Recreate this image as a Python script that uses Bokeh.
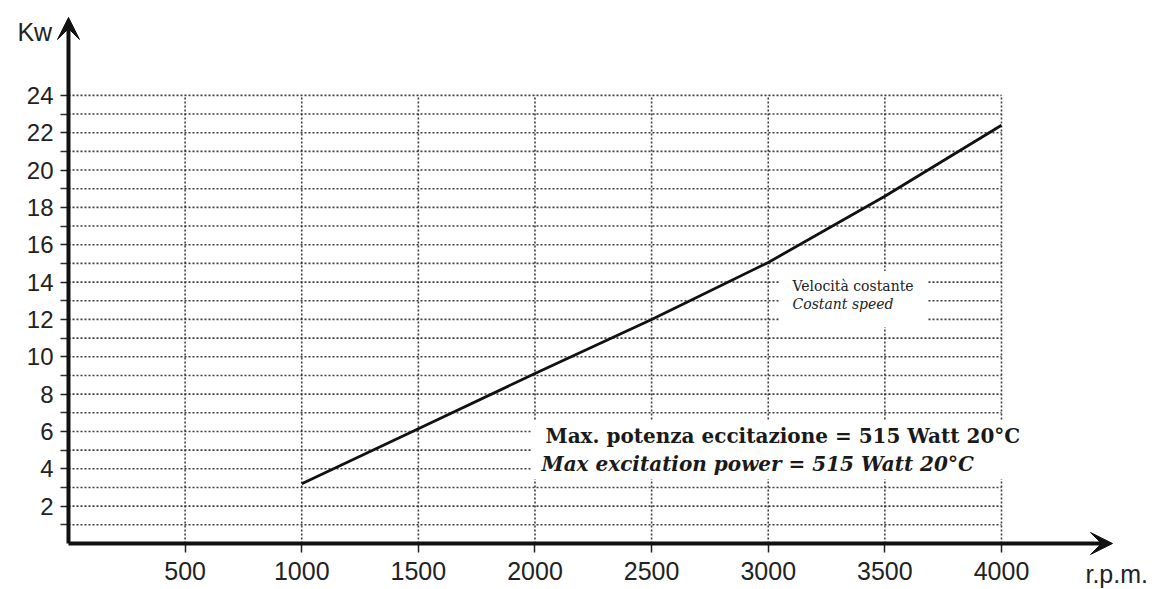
from bokeh.plotting import figure
from bokeh.models import Range1d, FixedTicker, Label, Arrow, VeeHead
from bokeh.embed import file_html
from bokeh.resources import INLINE

# ---- data ----
rpm = [1000, 1500, 2000, 2500, 3000, 3500, 4000]
kw = [3.2, 6.15, 9.1, 12.0, 15.05, 18.6, 22.4]

x_ticks = [500, 1000, 1500, 2000, 2500, 3000, 3500, 4000]
y_major = [2, 4, 6, 8, 10, 12, 14, 16, 18, 20, 22, 24]
y_minor = [1, 3, 5, 7, 9, 11, 13, 15, 17, 19, 21, 23]
grid_y = sorted(y_major + y_minor)

y_title = "Kw"
x_title = "r.p.m."
note_it = "Max. potenza eccitazione = 515 Watt 20°C"
note_en = "Max excitation power = 515 Watt 20°C"
speed_it = "Velocità costante"
speed_en = "Costant speed"

# ---- layout (frame spans whole figure; axes are fixed at 0) ----
X_MIN, X_MAX = -291.5, 4656
Y_MIN, Y_MAX = -2.464, 29.08
X_TIP = 4476
Y_TIP = 28.17

p = figure(width=1154, height=589,
           x_range=Range1d(X_MIN, X_MAX), y_range=Range1d(Y_MIN, Y_MAX),
           output_backend="svg", toolbar_location=None, min_border=0)
p.min_border_left = 0
p.min_border_right = 0
p.min_border_top = 0
p.min_border_bottom = 0
p.grid.visible = False
p.outline_line_color = None
p.background_fill_color = "white"
p.border_fill_color = "white"

AX_FONT = "Liberation Sans"
xa = p.xaxis[0]
xa.fixed_location = 0
xa.ticker = FixedTicker(ticks=x_ticks, minor_ticks=[])
xa.axis_line_color = None
xa.major_tick_in = 0
xa.major_tick_out = 9
xa.major_tick_line_width = 1.5
xa.major_tick_line_color = "#222222"
xa.minor_tick_out = 0
xa.minor_tick_in = 0
xa.major_label_text_font = AX_FONT
xa.major_label_text_font_size = "25px"
xa.major_label_text_color = "#222222"
xa.major_label_standoff = 10

ya = p.yaxis[0]
ya.fixed_location = 0
ya.ticker = FixedTicker(ticks=y_major, minor_ticks=y_minor)
ya.axis_line_color = None
ya.major_tick_in = 0
ya.major_tick_out = 8
ya.minor_tick_in = 0
ya.minor_tick_out = 8
ya.major_tick_line_width = 1.5
ya.minor_tick_line_width = 1.5
ya.major_tick_line_color = "#222222"
ya.minor_tick_line_color = "#333333"
ya.major_label_text_font = AX_FONT
ya.major_label_text_font_size = "24px"
ya.major_label_text_color = "#222222"
ya.major_label_standoff = 7

# dotted grid, limited to the chart area
GRID = dict(line_color="#2a2a2a", line_width=1.6, line_dash="2 2", line_alpha=0.9)
p.segment(x0=[0] * len(grid_y), y0=grid_y, x1=[x_ticks[-1]] * len(grid_y), y1=grid_y, **GRID)
p.segment(x0=x_ticks, y0=[0] * len(x_ticks), x1=x_ticks, y1=[grid_y[-1]] * len(x_ticks), **GRID)

# white patches behind the notes
p.quad(left=[1985, 3050], right=[4012, 3685], bottom=[3.45, 11.6], top=[6.6, 14.6],
       fill_color="white", line_color=None)

# curve
p.line(rpm, kw, line_color="#111111", line_width=2.8)

# axes with arrow heads
HEAD = dict(size=22, fill_color="#111111", line_color="#111111")
p.add_layout(Arrow(x_start=0, y_start=0, x_end=0, y_end=Y_TIP, line_width=4, line_color="#111111",
                   end=VeeHead(**HEAD)))
p.add_layout(Arrow(x_start=0, y_start=0, x_end=X_TIP, y_end=0, line_width=4, line_color="#111111",
                   end=VeeHead(**HEAD)))

p.add_layout(Label(x=-70, y=27.4, text=y_title, text_align="right", text_baseline="middle",
                   text_font=AX_FONT, text_font_size="25px", text_color="#222222"))
p.add_layout(Label(x=4360, y=-1.66, text=x_title, text_align="left", text_baseline="alphabetic",
                   text_font=AX_FONT, text_font_size="25px", text_color="#222222"))

SERIF = "DejaVu Serif"
p.add_layout(Label(x=2045, y=5.73, text=note_it, text_baseline="middle", text_font=SERIF,
                   text_font_style="bold", text_font_size="20px", text_color="#1a1a1a"))
p.add_layout(Label(x=2028, y=4.28, text=note_en, text_baseline="middle", text_font=SERIF,
                   text_font_style="bold italic", text_font_size="20px", text_color="#1a1a1a"))
p.add_layout(Label(x=3104, y=13.77, text=speed_it, text_baseline="middle", text_font=SERIF,
                   text_font_size="14px", text_color="#222222"))
p.add_layout(Label(x=3104, y=12.8, text=speed_en, text_baseline="middle", text_font=SERIF,
                   text_font_style="italic", text_font_size="14px", text_color="#222222"))

open("out.html", "w").write(file_html(p, INLINE))
